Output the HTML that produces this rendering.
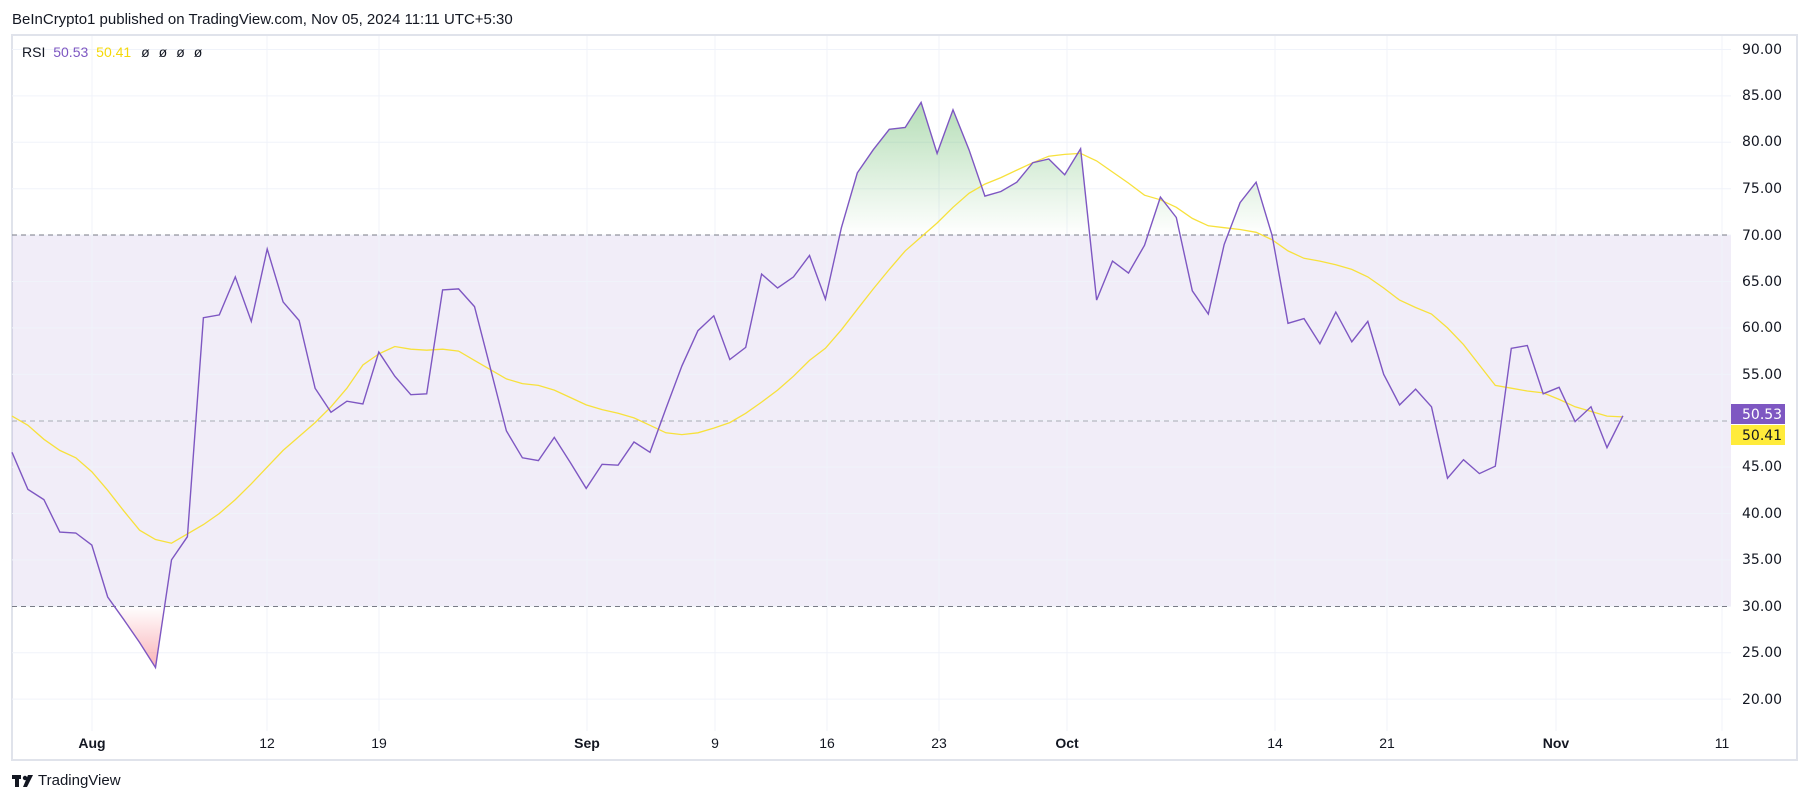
<!DOCTYPE html>
<html><head><meta charset="utf-8"><style>
body{margin:0;background:#fff;width:1805px;height:803px;overflow:hidden;font-family:"Liberation Sans",sans-serif;}
.t{position:absolute;white-space:nowrap}
</style></head><body>
<div class="t" style="left:12px;top:11px;font-size:15px;color:#131722">BeInCrypto1 published on TradingView.com, Nov 05, 2024 11:11 UTC+5:30</div>
<svg id="s" width="1805" height="803" style="position:absolute;left:0;top:0">
<defs>
<linearGradient id="gg" x1="0" y1="0" x2="0" y2="1" gradientUnits="userSpaceOnUse"  >
</linearGradient>
<linearGradient id="g1" x1="0" y1="90" x2="0" y2="235" gradientUnits="userSpaceOnUse"><stop offset="0" stop-color="#4caf50" stop-opacity="0.45"/><stop offset="1" stop-color="#4caf50" stop-opacity="0"/></linearGradient>
<linearGradient id="g2" x1="0" y1="606" x2="0" y2="670" gradientUnits="userSpaceOnUse"><stop offset="0" stop-color="#f23645" stop-opacity="0"/><stop offset="1" stop-color="#f23645" stop-opacity="0.4"/></linearGradient>
<clipPath id="ca"><rect x="12" y="0" width="1719" height="235"/></clipPath>
<clipPath id="cb"><rect x="12" y="606.5" width="1719" height="200"/></clipPath>
</defs>
<rect x="12" y="35" width="1785" height="725" fill="none" stroke="#e0e3eb" stroke-width="2"/>
<rect x="12" y="235" width="1719" height="371.5" fill="#7e57c2" fill-opacity="0.11"/>
<g id="grid" stroke="#f0f3fa" stroke-width="1"></g>
<line x1="12" x2="1731" y1="235" y2="235" stroke="#787b86" stroke-dasharray="5,4"/>
<line x1="12" x2="1731" y1="421" y2="421" stroke="#787b86" stroke-opacity="0.6" stroke-dasharray="5,4"/>
<line x1="12" x2="1731" y1="606.5" y2="606.5" stroke="#787b86" stroke-dasharray="5,4"/>
<path id="fa" clip-path="url(#ca)" fill="url(#g1)"/>
<path id="fb" clip-path="url(#cb)" fill="url(#g2)"/>
<path id="ma" fill="none" stroke="#f7e13c" stroke-width="1.3"/>
<path id="rsi" fill="none" stroke="#7e57c2" stroke-width="1.4"/>
<rect x="1731" y="404" width="54" height="20" fill="#7e57c2"/>
<rect x="1731" y="425" width="54" height="20" fill="#ffeb3b"/>
<g font-size="14" fill="#131722" font-family="DejaVu Sans, sans-serif">
<text x="1742" y="54">90.00</text><text x="1742" y="100">85.00</text><text x="1742" y="146">80.00</text><text x="1742" y="193">75.00</text><text x="1742" y="240">70.00</text><text x="1742" y="286">65.00</text><text x="1742" y="332">60.00</text><text x="1742" y="379">55.00</text><text x="1742" y="471">45.00</text><text x="1742" y="518">40.00</text><text x="1742" y="564">35.00</text><text x="1742" y="611">30.00</text><text x="1742" y="657">25.00</text><text x="1742" y="704">20.00</text>
<text x="1742" y="419" fill="#fff">50.53</text><text x="1742" y="440">50.41</text>
</g>
<g font-size="14" fill="#131722" text-anchor="middle">
<text x="92" y="748" font-weight="bold">Aug</text><text x="267" y="748">12</text><text x="379" y="748">19</text><text x="587" y="748" font-weight="bold">Sep</text><text x="715" y="748">9</text><text x="827" y="748">16</text><text x="939" y="748">23</text><text x="1067" y="748" font-weight="bold">Oct</text><text x="1275" y="748">14</text><text x="1387" y="748">21</text><text x="1556" y="748" font-weight="bold">Nov</text><text x="1722" y="748">11</text>
</g>
<g transform="translate(12,775)" fill="#131722"><rect x="0" y="0" width="9" height="4"/><rect x="3" y="0" width="4" height="12"/><circle cx="13" cy="3" r="2.2"/><path d="M16 0h5l-6 12h-4z"/></g>
</svg>
<div class="t" style="left:22px;top:44px;font-size:14px;color:#131722">RSI <span style="color:#7e57c2;margin-left:4px">50.53</span> <span style="color:#f5d90a;margin-left:4px">50.41</span> <span style="margin-left:6px;letter-spacing:9px">øøøø</span></div>
<div class="t" style="left:38px;top:772px;font-size:15px;color:#131722">TradingView</div>
<script>
var r=[46.6,42.6,41.5,38,37.9,36.6,31,28.6,26.1,23.4,35,37.5,61.1,61.4,65.5,60.7,68.5,62.8,60.8,53.5,50.9,52.1,51.8,57.4,54.8,52.8,52.9,64.1,64.2,62.3,55.6,48.9,46,45.7,48.2,45.5,42.7,45.3,45.2,47.7,46.6,51.3,55.9,59.7,61.3,56.6,57.9,65.8,64.3,65.5,67.8,63.1,70.8,76.7,79.2,81.4,81.6,84.3,78.8,83.5,79.2,74.2,74.7,75.7,77.8,78.2,76.5,79.3,63,67.2,65.9,68.9,74.1,71.9,64,61.5,69,73.5,75.7,70,60.5,61,58.3,61.7,58.5,60.7,55,51.7,53.4,51.5,43.8,45.8,44.3,45.1,57.8,58.1,52.9,53.6,49.9,51.5,47.1,50.53];
var m=[50.5,49.5,48,46.8,46,44.5,42.5,40.3,38.2,37.2,36.8,37.8,38.8,40,41.5,43.2,45,46.8,48.3,49.8,51.5,53.5,56,57.2,58,57.7,57.6,57.7,57.5,56.5,55.5,54.5,54,53.8,53.3,52.5,51.7,51.2,50.8,50.3,49.5,48.7,48.5,48.7,49.2,49.8,50.8,52,53.3,54.8,56.5,57.8,59.8,62,64.2,66.3,68.3,69.8,71.3,73,74.5,75.5,76.2,77,77.8,78.5,78.7,78.8,78,76.8,75.6,74.3,73.8,73,71.8,71,70.8,70.6,70.3,69.5,68.3,67.5,67.2,66.8,66.3,65.5,64.3,63,62.2,61.5,60,58.2,56,53.8,53.5,53.2,53,52.3,51.5,51,50.5,50.41];
function X(i){return 12+i*15.95}function Y(v){return 49.5+(90-v)*9.28}
function p(a){return a.map(function(v,i){return(i?'L':'M')+X(i).toFixed(1)+' '+Y(v).toFixed(1)}).join('')}
document.getElementById('rsi').setAttribute('d',p(r));
document.getElementById('ma').setAttribute('d',p(m));
var n=r.length-1;
document.getElementById('fa').setAttribute('d',p(r)+'L'+X(n)+' 235L12 235Z');
document.getElementById('fb').setAttribute('d',p(r)+'L'+X(n)+' 606.5L12 606.5Z');
var g=document.getElementById('grid'),h='';
for(var v=20;v<=90;v+=5){var y=Y(v);h+='<line x1="12" x2="1731" y1="'+y+'" y2="'+y+'"/>';}
[92,267,379,587,715,827,939,1067,1275,1387,1556,1722].forEach(function(x){h+='<line x1="'+x+'" x2="'+x+'" y1="36" y2="731"/>';});
g.innerHTML=h;
</script>
</body></html>
